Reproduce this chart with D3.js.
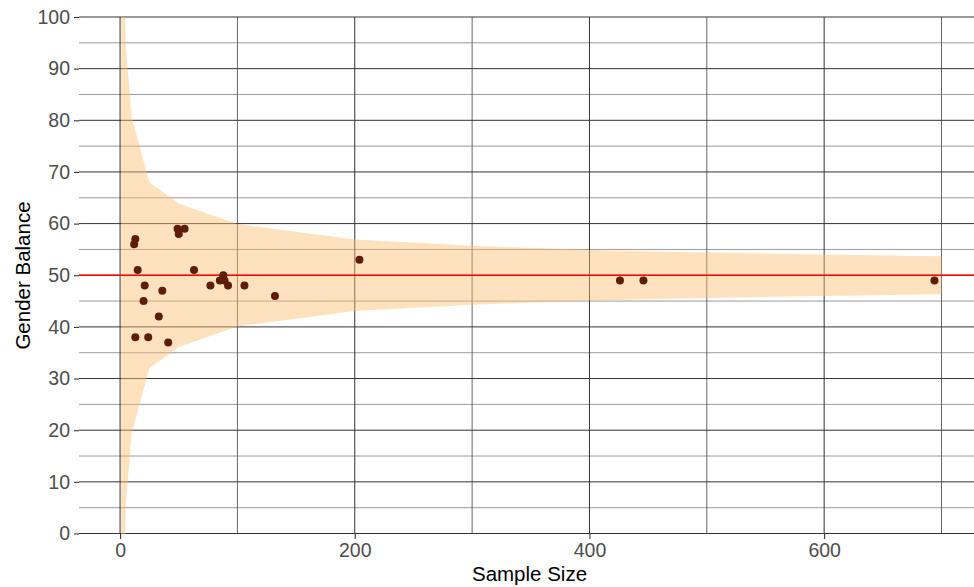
<!DOCTYPE html>
<html>
<head>
<meta charset="utf-8">
<script src="https://cdn.jsdelivr.net/npm/d3@7"></script>
<style>
	body { margin: 0; background: #fff; }
	text { font-family: "Liberation Sans", Arial, sans-serif; }
</style>
</head>
<body>
<div id="canvas"></div>
<script>
var width = 974,
	height = 587;

// studies: sample size and gender balance (%)
var sampleSize = [12, 13, 15, 13, 24, 20, 21, 33, 36, 41, 49, 50, 55, 63, 77, 85, 88, 89, 92, 106, 132, 204, 426, 446, 694];
var balance    = [56, 57, 51, 38, 38, 45, 48, 42, 47, 37, 59, 58, 59, 51, 48, 49, 50, 49, 48, 48, 46, 53, 49, 49, 49];

// funnel (95% band round 50)
var bandN     = [1, 5, 10, 25, 50, 100, 200, 300, 400, 500, 600, 700];
var bandUpper = [148, 93.8, 80.5, 68, 63.9, 59.9, 56.9, 55.7, 54.9, 54.4, 54, 53.7];
var bandLower = [-48, 6.2, 19.5, 32, 36.1, 40.1, 43.1, 44.3, 45.1, 45.6, 46, 46.3];

var target = 50;

var xTicks = [0, 200, 400, 600],
	xMinor = [100, 300, 500, 700],
	yTicks = [0, 10, 20, 30, 40, 50, 60, 70, 80, 90, 100],
	yMinor = [5, 15, 25, 35, 45, 55, 65, 75, 85, 95];

var pLeft = 79, pRight = 974, pTop = 17, pBottom = 534;

var x = d3.scaleLinear().domain([-35, 727.7]).range([pLeft, pRight]);
var y = d3.scaleLinear().domain([0, 100]).range([533.5, pTop]);

var svg = d3.select("#canvas").append("svg")
	.attr("width", width)
	.attr("height", height)

svg.append("clipPath").attr("id", "panel")
	.append("rect")
	.attr("x", pLeft).attr("y", pTop)
	.attr("width", pRight - pLeft).attr("height", pBottom - pTop)

// grid
var grid = svg.append("g");
grid.selectAll(".hminor").data(yMinor).enter().append("line")
	.attr("x1", pLeft).attr("x2", pRight)
	.attr("y1", function(d){ return y(d) }).attr("y2", function(d){ return y(d) })
	.attr("stroke", "#8f8f8f").attr("stroke-width", 0.9)
grid.selectAll(".vminor").data(xMinor).enter().append("line")
	.attr("y1", pTop).attr("y2", pBottom)
	.attr("x1", function(d){ return x(d) }).attr("x2", function(d){ return x(d) })
	.attr("stroke", "#555").attr("stroke-width", 0.9)
grid.selectAll(".hmajor").data(yTicks).enter().append("line")
	.attr("x1", pLeft).attr("x2", pRight)
	.attr("y1", function(d){ return y(d) }).attr("y2", function(d){ return y(d) })
	.attr("stroke", "#333").attr("stroke-width", 1)
grid.selectAll(".vmajor").data(xTicks).enter().append("line")
	.attr("y1", pTop).attr("y2", pBottom)
	.attr("x1", function(d){ return x(d) }).attr("x2", function(d){ return x(d) })
	.attr("stroke", "#333").attr("stroke-width", 1)

// funnel band
var area = d3.area()
	.x(function(d, i){ return x(bandN[i]) })
	.y0(function(d, i){ return y(bandLower[i]) })
	.y1(function(d, i){ return y(bandUpper[i]) });

svg.append("path")
	.datum(bandN)
	.attr("clip-path", "url(#panel)")
	.attr("d", area)
	.attr("fill", "#fdbf6f")
	.attr("fill-opacity", 0.45)

// target line
svg.append("line")
	.attr("x1", pLeft).attr("x2", pRight)
	.attr("y1", y(target)).attr("y2", y(target))
	.attr("stroke", "#ff0000").attr("stroke-width", 1.6)

// points
svg.selectAll(".dot")
	.data(sampleSize)
	.enter().append("circle")
	.classed("dot", true)
	.attr("cx", function(d){ return x(d) })
	.attr("cy", function(d, i){ return y(balance[i]) })
	.attr("r", 4)
	.attr("fill", "#5e1d05")

// axes
var xAxis = svg.append("g")
	.attr("transform", "translate(0," + pBottom + ")")
	.call(d3.axisBottom(x).tickValues(xTicks).tickSize(5).tickPadding(4))
var yAxis = svg.append("g")
	.attr("transform", "translate(" + pLeft + ",0)")
	.call(d3.axisLeft(y).tickValues(yTicks).tickSize(5).tickPadding(4))

svg.selectAll(".domain").remove();
svg.selectAll(".tick line").attr("stroke", "#333").attr("stroke-width", 1.1);
svg.selectAll(".tick text")
	.attr("fill", "#4d4d4d")
	.style("font-size", "19.5px")
	.style("font-family", "'Liberation Sans', Arial, sans-serif");

svg.append("text")
	.attr("x", (pLeft + pRight) / 2 + 3)
	.attr("y", 581)
	.attr("text-anchor", "middle")
	.style("font-size", "20.5px")
	.attr("fill", "#000")
	.text("Sample Size")

svg.append("text")
	.attr("transform", "translate(30," + ((pTop + pBottom) / 2) + ") rotate(-90)")
	.attr("text-anchor", "middle")
	.style("font-size", "20.5px")
	.attr("fill", "#000")
	.text("Gender Balance")
</script>
</body>
</html>
